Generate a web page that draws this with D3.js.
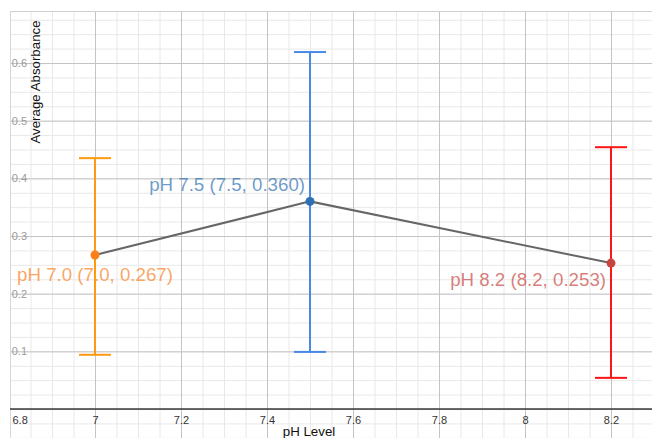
<!DOCTYPE html>
<html>
<head>
<meta charset="utf-8">
<script src="https://cdn.jsdelivr.net/npm/d3@7"></script>
<style>
  body { margin: 0; background: #fff; }
  svg { display: block; font-family: "Liberation Sans", Arial, sans-serif; }
</style>
</head>
<body>
<svg id="chart" width="652" height="438"></svg>
<script>
// values
const phLevels = [7.0, 7.5, 8.2];
const meanAbs = [0.267, 0.360, 0.253];
const upperAbs = [0.435, 0.619, 0.454];
const lowerAbs = [0.094, 0.099, 0.054];
const pointLabels = ['pH 7.0 (7.0, 0.267)', 'pH 7.5 (7.5, 0.360)', 'pH 8.2 (8.2, 0.253)'];
const xTickValues = [6.8, 7, 7.2, 7.4, 7.6, 7.8, 8, 8.2];
const yTickValues = [0.1, 0.2, 0.3, 0.4, 0.5, 0.6];

// colours, per series
const barColors = ['#ff9a0e', '#4a88e8', '#ff1414'];
const dotColors = ['#fa7e19', '#2d70b3', '#c74440'];

const svg = d3.select('#chart');
const plotLeft = 10, plotTop = 11, plotRight = 652, plotBottom = 438;

const x = d3.scaleLinear().domain([7, 8.2]).range([95, 611]);
const y = d3.scaleLinear().domain([0, 0.6]).range([409, 63]);

const xLo = x.invert(plotLeft), xHi = x.invert(plotRight);
const yLo = y.invert(plotBottom), yHi = y.invert(plotTop);

svg.append('clipPath').attr('id', 'plot')
   .append('rect')
   .attr('x', plotLeft).attr('y', plotTop)
   .attr('width', plotRight - plotLeft).attr('height', plotBottom - plotTop);

const grid = svg.append('g').attr('clip-path', 'url(#plot)');

// minor grid
const xMinor = d3.range(Math.ceil(xLo / 0.05), Math.floor(xHi / 0.05) + 1).map((i) => +(i * 0.05).toFixed(2));
const yMinor = d3.range(Math.ceil(yLo / 0.025), Math.floor(yHi / 0.025) + 1).map((i) => +(i * 0.025).toFixed(3));

grid.append('g')
    .attr('transform', `translate(0,${plotBottom})`)
    .call(d3.axisBottom(x).tickValues(xMinor).tickSize(-(plotBottom - plotTop)).tickFormat(''))
    .call((g) => g.select('.domain').remove())
    .call((g) => g.selectAll('line').attr('stroke', '#e8e8e8'));

grid.append('g')
    .attr('transform', `translate(${plotLeft},0)`)
    .call(d3.axisLeft(y).tickValues(yMinor).tickSize(-(plotRight - plotLeft)).tickFormat(''))
    .call((g) => g.select('.domain').remove())
    .call((g) => g.selectAll('line').attr('stroke', '#e8e8e8'));

// major grid
const xMajor = d3.range(Math.ceil(xLo / 0.2), Math.floor(xHi / 0.2) + 1).map((i) => +(i * 0.2).toFixed(1));
const yMajor = d3.range(Math.ceil(yLo / 0.1), Math.floor(yHi / 0.1) + 1).map((i) => +(i * 0.1).toFixed(1));

grid.append('g')
    .attr('transform', `translate(0,${plotBottom})`)
    .call(d3.axisBottom(x).tickValues(xMajor).tickSize(-(plotBottom - plotTop)).tickFormat(''))
    .call((g) => g.select('.domain').remove())
    .call((g) => g.selectAll('line').attr('stroke', '#c4c4c4'));

grid.append('g')
    .attr('transform', `translate(${plotLeft},0)`)
    .call(d3.axisLeft(y).tickValues(yMajor).tickSize(-(plotRight - plotLeft)).tickFormat(''))
    .call((g) => g.select('.domain').remove())
    .call((g) => g.selectAll('line').attr('stroke', '#c4c4c4'));

// frame top / left
svg.append('line').attr('x1', plotLeft).attr('x2', plotRight).attr('y1', plotTop + 0.5).attr('y2', plotTop + 0.5)
   .attr('stroke', '#cfcfcf');
svg.append('line').attr('x1', plotLeft + 0.5).attr('x2', plotLeft + 0.5).attr('y1', plotTop).attr('y2', plotBottom)
   .attr('stroke', '#d8d8d8');

// x axis line
svg.append('line')
   .attr('x1', plotLeft).attr('x2', plotRight)
   .attr('y1', y(0)).attr('y2', y(0))
   .attr('stroke', '#3a3a3a').attr('stroke-width', 1.5);

// x tick labels
const xAxis = svg.append('g')
   .attr('transform', `translate(0,${y(0)})`)
   .call(d3.axisBottom(x).tickValues(xTickValues).tickSize(0).tickPadding(7).tickFormat(d3.format('')))
   .call((g) => g.select('.domain').remove());
xAxis.selectAll('text')
   .attr('font-size', 11).attr('font-family', '"Liberation Sans", Arial, sans-serif')
   .attr('fill', '#333')
   .attr('text-anchor', (d) => (x(d) - 8 < plotLeft ? 'start' : 'middle'))
   .attr('x', (d) => (x(d) - 8 < plotLeft ? plotLeft + 2 - x(d) : 0));

// y tick labels
const yAxis = svg.append('g')
   .attr('transform', `translate(${plotLeft + 17},0)`)
   .call(d3.axisLeft(y).tickValues(yTickValues).tickSize(0).tickPadding(0).tickFormat(d3.format('.1f')))
   .call((g) => g.select('.domain').remove());
yAxis.selectAll('text')
   .attr('font-size', 11).attr('font-family', '"Liberation Sans", Arial, sans-serif')
   .attr('fill', '#9a9a9a');

// axis titles
svg.append('text')
   .attr('transform', 'translate(40,82) rotate(-90)')
   .attr('text-anchor', 'middle')
   .attr('font-size', 13.3)
   .attr('fill', '#111')
   .text('Average Absorbance');

svg.append('text')
   .attr('x', 309).attr('y', 436)
   .attr('text-anchor', 'middle')
   .attr('font-size', 13.3)
   .attr('fill', '#111')
   .text('pH Level');

const rows = phLevels.map((ph, i) => ({
  ph, mean: meanAbs[i], hi: upperAbs[i], lo: lowerAbs[i],
  label: pointLabels[i], bar: barColors[i], dot: dotColors[i],
}));

// point labels
const labelPlace = [
  { anchor: 'middle', dx: 0, dy: 26 },
  { anchor: 'end', dx: -5, dy: -10 },
  { anchor: 'end', dx: -5, dy: 23 },
];
svg.selectAll('text.pt')
   .data(rows)
   .enter()
   .append('text')
   .attr('class', 'pt')
   .attr('x', (d, i) => x(d.ph) + labelPlace[i].dx)
   .attr('y', (d, i) => y(d.mean) + labelPlace[i].dy)
   .attr('text-anchor', (d, i) => labelPlace[i].anchor)
   .attr('font-size', 18.7)
   .attr('fill', (d) => d.dot)
   .attr('fill-opacity', 0.7)
   .text((d) => d.label);

// error bars
const bars = svg.selectAll('g.err')
   .data(rows)
   .enter()
   .append('g')
   .attr('class', 'err')
   .attr('stroke', (d) => d.bar)
   .attr('stroke-width', 2);
bars.append('line')
   .attr('x1', (d) => x(d.ph)).attr('x2', (d) => x(d.ph))
   .attr('y1', (d) => y(d.hi)).attr('y2', (d) => y(d.lo));
bars.append('line')
   .attr('x1', (d) => x(d.ph) - 16).attr('x2', (d) => x(d.ph) + 16)
   .attr('y1', (d) => y(d.hi)).attr('y2', (d) => y(d.hi));
bars.append('line')
   .attr('x1', (d) => x(d.ph) - 16).attr('x2', (d) => x(d.ph) + 16)
   .attr('y1', (d) => y(d.lo)).attr('y2', (d) => y(d.lo));

// connecting line
svg.append('path')
   .datum(rows)
   .attr('fill', 'none')
   .attr('stroke', '#666')
   .attr('stroke-width', 2)
   .attr('d', d3.line().x((d) => x(d.ph)).y((d) => y(d.mean)));

// points
svg.selectAll('circle')
   .data(rows)
   .enter()
   .append('circle')
   .attr('cx', (d) => x(d.ph))
   .attr('cy', (d) => y(d.mean))
   .attr('r', 4.5)
   .style('fill', (d) => d.dot);
</script>
</body>
</html>
